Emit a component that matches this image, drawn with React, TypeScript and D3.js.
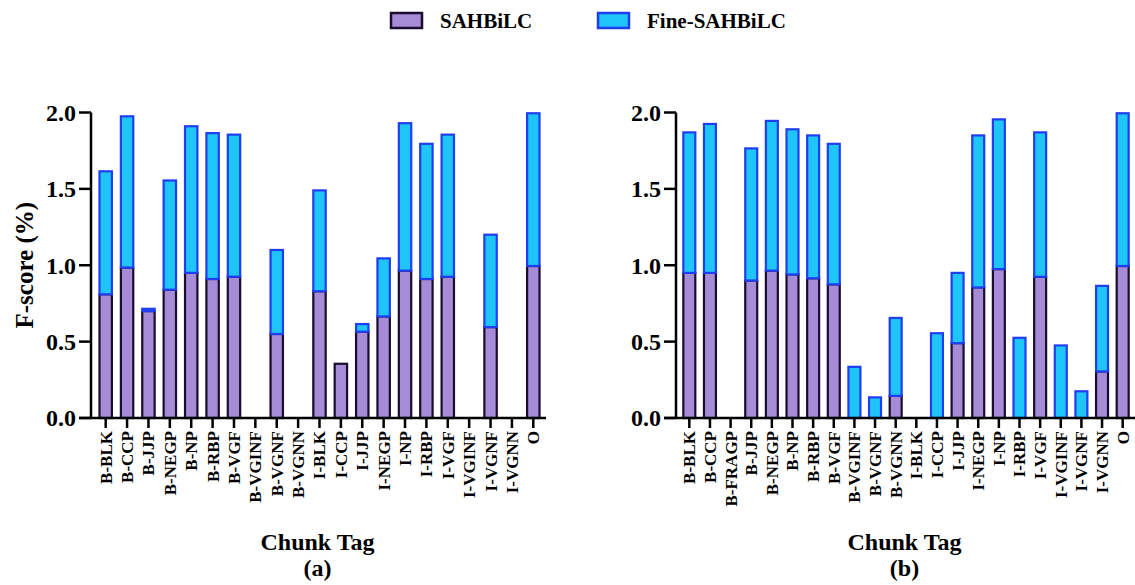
import React, { useRef, useEffect } from "react";
import * as d3 from "d3";

const WIDTH = 1135;
const HEIGHT = 585;
const FONT = "'Liberation Serif', 'Times New Roman', serif";

const SERIES = ["SAHBiLC", "Fine-SAHBiLC"];
const FILLS = ["#a68bd6", "#1ec5f6"];
const STROKES = ["#1a0c30", "#1f3ef2"];

// panel (a)
const tagsA = ["B-BLK", "B-CCP", "B-JJP", "B-NEGP", "B-NP", "B-RBP", "B-VGF", "B-VGINF", "B-VGNF", "B-VGNN",
  "I-BLK", "I-CCP", "I-JJP", "I-NEGP", "I-NP", "I-RBP", "I-VGF", "I-VGINF", "I-VGNF", "I-VGNN", "O"];
const sahA = [0.81, 0.985, 0.70, 0.84, 0.95, 0.91, 0.925, 0, 0.55, 0, 0.83, 0.355, 0.565, 0.665, 0.965, 0.91, 0.925, 0, 0.595, 0, 0.995];
const fineA = [0.805, 0.99, 0.015, 0.715, 0.96, 0.955, 0.93, 0, 0.55, 0, 0.66, 0, 0.05, 0.38, 0.965, 0.885, 0.93, 0, 0.605, 0, 1.0];

// panel (b)
const tagsB = ["B-BLK", "B-CCP", "B-FRAGP", "B-JJP", "B-NEGP", "B-NP", "B-RBP", "B-VGF", "B-VGINF", "B-VGNF", "B-VGNN",
  "I-BLK", "I-CCP", "I-JJP", "I-NEGP", "I-NP", "I-RBP", "I-VGF", "I-VGINF", "I-VGNF", "I-VGNN", "O"];
const sahB = [0.95, 0.95, 0, 0.90, 0.965, 0.94, 0.915, 0.875, 0, 0, 0.145, 0, 0, 0.49, 0.855, 0.975, 0, 0.925, 0, 0, 0.305, 0.995];
const fineB = [0.92, 0.975, 0, 0.865, 0.98, 0.95, 0.935, 0.92, 0.335, 0.135, 0.51, 0, 0.555, 0.46, 0.995, 0.98, 0.525, 0.945, 0.475, 0.175, 0.56, 1.0];

const yTicks = [0, 0.5, 1.0, 1.5, 2.0];

interface PanelSpec {
  tags: string[];
  sah: number[];
  fine: number[];
  axisX: number;      // y axis position
  x0: number;         // band range start
  x1: number;         // band range end
  letter: string;
  yTitle: boolean;
}

const panels: PanelSpec[] = [
  { tags: tagsA, sah: sahA, fine: fineA, axisX: 91, x0: 95, x1: 544, letter: "(a)", yTitle: true },
  { tags: tagsB, sah: sahB, fine: fineB, axisX: 676, x0: 679, x1: 1133, letter: "(b)", yTitle: false },
];

const App: React.FC = () => {
  const svgRef = useRef<SVGSVGElement | null>(null);

  const drawChart = () => {
    if (!svgRef.current) return;
    const svg = d3.select(svgRef.current);
    svg.selectAll("*").remove();

    const y = d3.scaleLinear().domain([0, 2]).range([418, 112.5]);

    // legend
    const legend = svg.append("g");
    const legendX = [391, 598];
    SERIES.forEach((s, i) => {
      legend.append("rect")
        .attr("x", legendX[i]).attr("y", 13)
        .attr("width", 31).attr("height", 15)
        .attr("fill", FILLS[i]).attr("stroke", STROKES[i]).attr("stroke-width", 2.5);
      legend.append("text")
        .attr("x", legendX[i] + 49).attr("y", 28)
        .attr("font-family", FONT).attr("font-weight", "bold").attr("font-size", 21)
        .text(s);
    });

    panels.forEach((p) => {
      const g = svg.append("g");
      const x = d3.scaleBand<string>()
        .domain(p.tags)
        .range([p.x0, p.x1])
        .paddingInner(0.42)
        .paddingOuter(0.21);

      const rows = p.tags.map((t, i) => ({ tag: t, SAHBiLC: p.sah[i], "Fine-SAHBiLC": p.fine[i] }));
      const stacked = d3.stack<any>().keys(SERIES)(rows);

      stacked.forEach((layer, li) => {
        g.append("g")
          .selectAll("rect")
          .data(layer.filter((d) => d[1] - d[0] > 0))
          .enter().append("rect")
          .attr("x", (d: any) => x(d.data.tag)!)
          .attr("width", x.bandwidth())
          .attr("y", (d: any) => y(d[1]))
          .attr("height", (d: any) => y(d[0]) - y(d[1]))
          .attr("fill", FILLS[li])
          .attr("stroke", STROKES[li])
          .attr("stroke-width", 2.2);
      });

      // y axis
      g.append("line")
        .attr("x1", p.axisX).attr("x2", p.axisX)
        .attr("y1", y(2)).attr("y2", y(0))
        .attr("stroke", "#000").attr("stroke-width", 2.5);
      yTicks.forEach((v) => {
        g.append("line")
          .attr("x1", p.axisX - 12).attr("x2", p.axisX)
          .attr("y1", y(v)).attr("y2", y(v))
          .attr("stroke", "#000").attr("stroke-width", 2.5);
        g.append("text")
          .attr("x", p.axisX - 15).attr("y", y(v))
          .attr("dy", "0.35em")
          .attr("text-anchor", "end")
          .attr("font-family", FONT).attr("font-weight", "bold").attr("font-size", 24)
          .text(d3.format(".1f")(v));
      });

      // x axis
      g.append("line")
        .attr("x1", p.axisX - 12).attr("x2", p.x1 + 2)
        .attr("y1", y(0)).attr("y2", y(0))
        .attr("stroke", "#000").attr("stroke-width", 2.5);
      p.tags.forEach((t) => {
        const cx = x(t)! + x.bandwidth() / 2;
        g.append("line")
          .attr("x1", cx).attr("x2", cx)
          .attr("y1", y(0)).attr("y2", y(0) + 10)
          .attr("stroke", "#000").attr("stroke-width", 2.5);
        g.append("text")
          .attr("transform", `translate(${cx},${y(0) + 13}) rotate(-90)`)
          .attr("dy", "0.35em")
          .attr("text-anchor", "end")
          .attr("font-family", FONT).attr("font-weight", "bold").attr("font-size", 17)
          .text(t);
      });

      const mid = (p.axisX + p.x1) / 2;
      g.append("text")
        .attr("x", mid).attr("y", 550)
        .attr("text-anchor", "middle")
        .attr("font-family", FONT).attr("font-weight", "bold").attr("font-size", 24)
        .text("Chunk Tag");
      g.append("text")
        .attr("x", mid).attr("y", 576)
        .attr("text-anchor", "middle")
        .attr("font-family", FONT).attr("font-weight", "bold").attr("font-size", 24)
        .text(p.letter);

      if (p.yTitle) {
        g.append("text")
          .attr("transform", `translate(24,${(y(0) + y(2)) / 2}) rotate(-90)`)
          .attr("dy", "0.35em")
          .attr("text-anchor", "middle")
          .attr("font-family", FONT).attr("font-weight", "bold").attr("font-size", 25)
          .text("F-score (%)");
      }
    });
  };

  useEffect(() => {
    drawChart();
  }, []);

  return (
    <svg
      ref={svgRef}
      width={WIDTH}
      height={HEIGHT}
      style={{ position: "absolute", left: 0, top: 0, background: "#fff" }}
    ></svg>
  );
};

export default App;
